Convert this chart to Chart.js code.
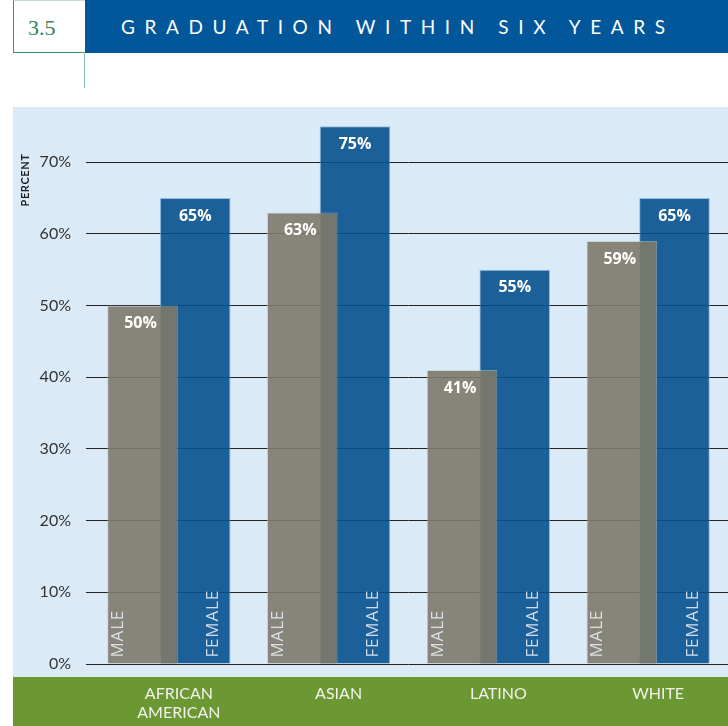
<!DOCTYPE html>
<html>
<head>
<meta charset="utf-8">
<script src="https://cdn.jsdelivr.net/npm/chart.js@4.4.1/dist/chart.umd.min.js"></script>
<style>
  body { margin: 0; width: 728px; height: 726px; background: #fff; position: relative; overflow: hidden; font-family: Lato, "Open Sans", sans-serif; }
  #numBox { position: absolute; left: 13px; top: 0; width: 71px; height: 51px; border-left: 1px solid #3d9467; border-bottom: 1px solid #3d9467; border-top: 1px solid #bfe0cc; color: #2f8555; font: 22px "Liberation Serif", "DejaVu Serif", serif; line-height: 53px; text-indent: 14px; }
  #stem { position: absolute; left: 84px; top: 52px; width: 1px; height: 36px; background: #86c4a4; }
  #band { position: absolute; left: 85px; top: 0; width: 643px; height: 53px; background: #02579a; color: #fff; font-weight: 400; font-size: 19px; letter-spacing: 9.6px; line-height: 54px; text-indent: 36px; white-space: nowrap; }
  #wrap { position: absolute; left: 13px; top: 107px; width: 715px; height: 619px; }
</style>
</head>
<body>
<div id="numBox">3.5</div>
<div id="stem"></div>
<div id="band">GRADUATION WITHIN SIX YEARS</div>
<div id="wrap"><canvas id="gradChart"></canvas></div>
<script>
// data
var groups = [["AFRICAN", "AMERICAN"], "ASIAN", "LATINO", "WHITE"];
var male = [50, 63, 41, 59];
var female = [65, 75, 55, 65];
var yTicks = [0, 10, 20, 30, 40, 50, 60, 70];

var context = document.querySelector("#gradChart");

// backgrounds, rotated labels and value labels
var decorPlugin = {
  id: "decor",
  beforeDraw: function (chart) {
    var ctx = chart.ctx;
    ctx.save();
    ctx.fillStyle = "#daebf7";
    ctx.fillRect(0, 0, chart.width, chart.height);
    ctx.fillStyle = "#6b9833";
    ctx.fillRect(0, 570, chart.width, chart.height - 570);
    ctx.restore();
  },
  afterDatasetsDraw: function (chart) {
    var ctx = chart.ctx;
    ctx.save();
    ctx.fillStyle = "#1c1c1c";
    ctx.font = "bold 11px Lato, sans-serif";
    ctx.letterSpacing = "0.6px";
    ctx.translate(12, 73);
    ctx.rotate(-Math.PI / 2);
    ctx.textAlign = "center";
    ctx.textBaseline = "middle";
    ctx.fillText("PERCENT", 0, 0);
    ctx.restore();

    chart.data.datasets.forEach(function (ds, di) {
      var meta = chart.getDatasetMeta(di);
      meta.data.forEach(function (bar, i) {
        var left = bar.x - bar.width / 2;
        var right = bar.x + bar.width / 2;
        ctx.save();
        ctx.fillStyle = "#ffffff";
        ctx.font = "bold 16px 'Open Sans', sans-serif";
        ctx.textAlign = "center";
        ctx.textBaseline = "middle";
        ctx.fillText(ds.data[i] + "%", di === 0 ? bar.x - 2 : bar.x, bar.y + 18);
        ctx.restore();

        ctx.save();
        ctx.fillStyle = "rgba(228,234,240,0.9)";
        ctx.font = "17px 'Open Sans', sans-serif";
        ctx.letterSpacing = "0.8px";
        ctx.translate(di === 0 ? left + 11 : right - 17, bar.base - 6);
        ctx.rotate(-Math.PI / 2);
        ctx.textAlign = "left";
        ctx.textBaseline = "middle";
        ctx.fillText(ds.label.toUpperCase(), 0, 0);
        ctx.restore();
      });
    });
  }
};

var grad_chart = new Chart(context, {
  type: "bar",
  data: {
    labels: groups,
    datasets: [
      {
        label: "Male",
        data: male,
        backgroundColor: "rgba(125,122,106,0.9)",
        borderColor: "rgba(190,195,190,0.55)",
        borderWidth: 1,
        categoryPercentage: 0.66,
        barPercentage: 1.34
      },
      {
        label: "Female",
        data: female,
        backgroundColor: "rgba(7,81,143,0.9)",
        borderColor: "rgba(120,170,215,0.7)",
        borderWidth: 1,
        categoryPercentage: 0.66,
        barPercentage: 1.34
      }
    ]
  },
  options: {
    responsive: true,
    maintainAspectRatio: false,
    animation: false,
    layout: { padding: 0, autoPadding: false },
    plugins: {
      legend: { display: false },
      tooltip: { enabled: false }
    },
    scales: {
      x: {
        grid: { display: false, drawTicks: false },
        border: { display: false },
        ticks: {
          color: "#f2f2ea",
          font: { family: "Lato", size: 16 },
          padding: 20,
          labelOffset: 10,
          maxRotation: 0
        },
        afterFit: function (scale) { scale.height = 62; }
      },
      y: {
        min: 0,
        max: 77.7,
        grid: { color: "#222222", lineWidth: 1, tickLength: 3, tickColor: "#222222" },
        border: { display: false },
        afterBuildTicks: function (scale) {
          scale.ticks = yTicks.map(function (v) { return { value: v }; });
        },
        ticks: {
          color: "#333333",
          font: { family: "Lato", size: 16 },
          padding: 15,
          callback: function (v) { return v + "%"; }
        },
        afterFit: function (scale) {
          scale.width = 76;
          scale.paddingTop = 0;
          scale.paddingBottom = 0;
        }
      }
    }
  },
  plugins: [decorPlugin]
});
</script>
</body>
</html>
